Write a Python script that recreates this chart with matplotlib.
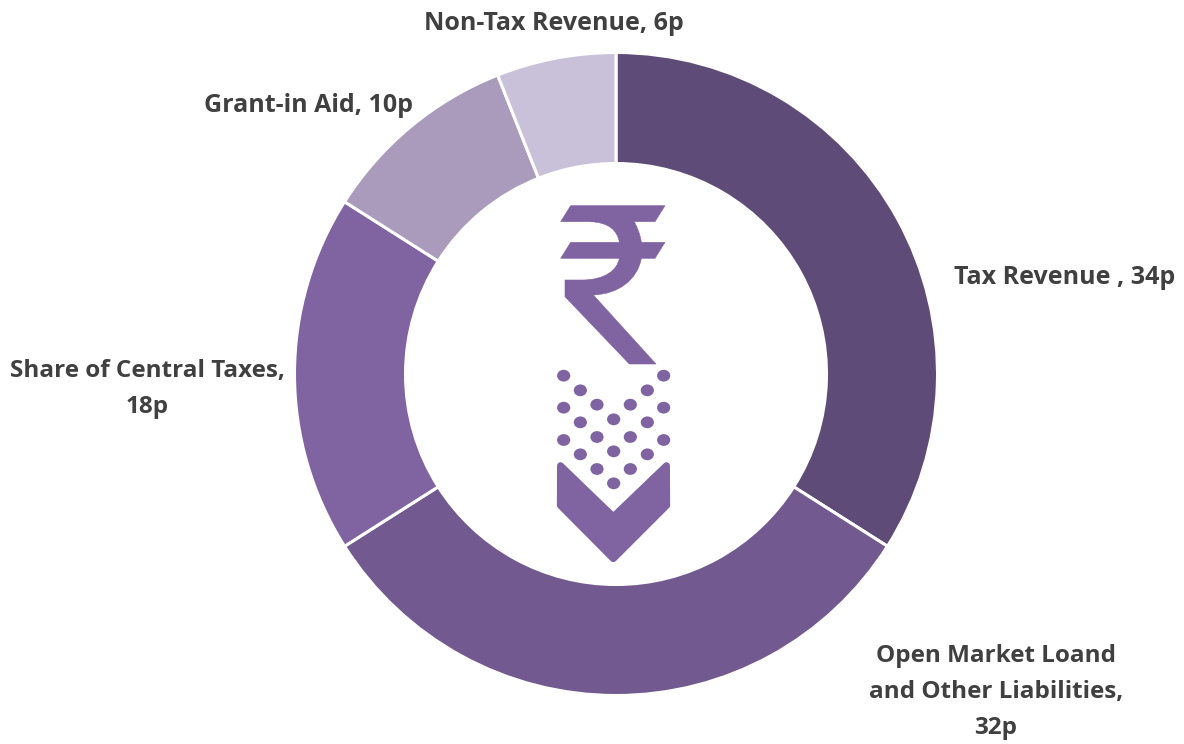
import matplotlib
matplotlib.use('Agg')
import matplotlib.pyplot as plt
from matplotlib.patches import Polygon, PathPatch, Ellipse
from matplotlib.path import Path

# データ
labels = ['Tax Revenue , 34p', 'Open Market Loand\nand Other Liabilities,\n32p',
          'Share of Central Taxes,\n18p', 'Grant-in Aid, 10p', 'Non-Tax Revenue, 6p']
values = [34, 32, 18, 10, 6]
colors = ['#5F4B77', '#725A90', '#8064A2', '#AA9BBD', '#C8C1D9']
label_pos = [(1065, 277), (996, 692), (147, 389), (309, 106), (554, 24)]
label_size = [18, 17.5, 17.5, 18, 18]

icon_color = '#8064A2'
text_color = '#404040'
W, H = 1184, 744


def px(x, y):
    return (x, H - y)


# 拡大図の座標から画像のピクセル座標へ
def top_icon(x, y):
    return px(530 + x / 3, 190 + y / 3)


def low_icon(x, y):
    return px(530 + x / 3, 360 + y / 3)


fig = plt.figure(figsize=(W / 100, H / 100), dpi=100)
ax = fig.add_axes([0, 0, 1, 1])

ax.pie(values, colors=colors, startangle=90, counterclock=False,
       center=px(616, 374), radius=321.5, frame=True,
       wedgeprops=dict(width=111, edgecolor='white', linewidth=2.2))

ax.set_xlim(0, W)
ax.set_ylim(0, H)
ax.set_aspect('equal')
ax.axis('off')

for label, (x, y), size in zip(labels, label_pos, label_size):
    ax.text(x, H - y, label, ha='center', va='center', fontsize=size, fontweight='bold',
            family='Open Sans', color=text_color, linespacing=1.68)

# ルピー記号
for y0, y1 in [(47, 95), (157, 205)]:
    ax.add_patch(Polygon([top_icon(122, y0), top_icon(405, y0), top_icon(375, y1), top_icon(92, y1)],
                         closed=True, fc=icon_color, ec=icon_color, lw=0.4))

body = [
    (Path.MOVETO, (200, 90)), (Path.LINETO, (310, 90)),
    (Path.CURVE3, (330, 125)), (Path.CURVE3, (334, 157)),
    (Path.LINETO, (334, 205)),
    (Path.CURVE4, (322, 270)), (Path.CURVE4, (265, 312)), (Path.CURVE4, (190, 315)),
    (Path.LINETO, (378, 522)), (Path.LINETO, (298, 522)),
    (Path.LINETO, (105, 320)), (Path.LINETO, (105, 270)),
    (Path.LINETO, (155, 270)),
    (Path.CURVE4, (225, 270)), (Path.CURVE4, (262, 240)), (Path.CURVE4, (268, 205)),
    (Path.LINETO, (268, 157)),
    (Path.CURVE4, (262, 120)), (Path.CURVE4, (235, 97)), (Path.CURVE4, (180, 95)),
    (Path.CLOSEPOLY, (200, 90)),
]
ax.add_patch(PathPatch(Path([top_icon(*p) for _, p in body], [c for c, _ in body]),
                       fc=icon_color, ec=icon_color, lw=0.4))

# 点
dots = [(101, 47), (401, 47), (151, 91), (352, 91), (101, 143), (401, 143), (201, 134),
        (301, 134), (151, 187), (352, 187), (251, 178), (101, 240), (401, 240), (201, 231),
        (301, 231), (151, 283), (352, 283), (251, 274), (201, 327), (301, 327), (251, 370)]
for d in dots:
    ax.add_patch(Ellipse(low_icon(*d), 13.2, 11.8, fc=icon_color, ec='none'))

# 下向きの矢印
chevron = [(91.5, 317), (91, 436), (250, 596), (410, 436), (409.5, 317), (250, 470)]
ax.add_patch(Polygon([low_icon(*p) for p in chevron], closed=True, fc=icon_color,
                     ec=icon_color, lw=5, joinstyle='round'))

fig.savefig('out.png', dpi=100, facecolor='white')
